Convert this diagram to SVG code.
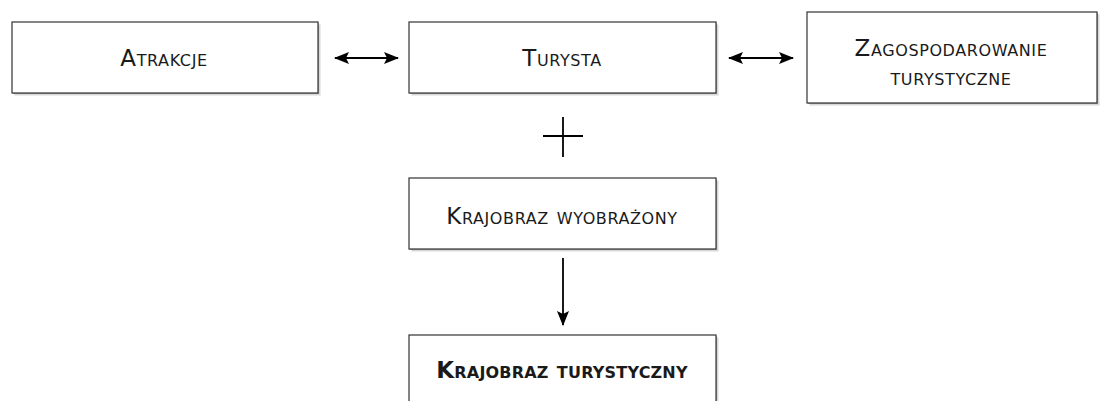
<svg xmlns="http://www.w3.org/2000/svg" width="1102" height="401" viewBox="0 0 1102 401">
<style>
.box{fill:#fff;stroke:#333;stroke-width:1.2}
.sh1{fill:#d8d8d8}
.sh2{fill:#a8a8a8}
.t{font-family:"DejaVu Sans",sans-serif;font-size:23px;letter-spacing:0.6px;font-variant:small-caps;fill:#1a1a1a;text-anchor:middle}
.b{font-weight:bold;letter-spacing:0.2px}
.c{stroke:#000;stroke-width:1.8;fill:none}
</style>
<defs>
<marker id="ah" viewBox="0 0 15 12" refX="14" refY="6" markerWidth="15" markerHeight="12" markerUnits="userSpaceOnUse" orient="auto-start-reverse">
<path d="M0,0 L15,6 L0,12 L3,6 Z" fill="#000"/>
</marker>
</defs>
<rect width="1102" height="401" fill="#fff"/>
<g id="atrakcje">
<rect class="sh1" x="14.5" y="24.5" width="306" height="71"/>
<rect class="sh2" x="13" y="23" width="306" height="71"/>
<rect class="box" x="12" y="22" width="306" height="71"/>
<text class="t" x="164" y="66">Atrakcje</text>
</g>
<g id="turysta">
<rect class="sh1" x="411.5" y="24.5" width="307" height="71"/>
<rect class="sh2" x="410" y="23" width="307" height="71"/>
<rect class="box" x="409" y="22" width="307" height="71"/>
<text class="t" x="562" y="66">Turysta</text>
</g>
<g id="zagospodarowanie">
<rect class="sh1" x="809.5" y="14.5" width="290" height="91"/>
<rect class="sh2" x="808" y="13" width="290" height="91"/>
<rect class="box" x="807" y="12" width="290" height="91"/>
<text class="t" x="951" y="56">Zagospodarowanie</text>
<text class="t" x="951" y="85">turystyczne</text>
</g>
<g id="plus">
<line class="c" x1="543" y1="136" x2="583" y2="136"/>
<line class="c" x1="563" y1="117" x2="563" y2="157"/>
</g>
<g id="krajobraz-wyobrazony">
<rect class="sh1" x="411.5" y="180.5" width="307" height="71"/>
<rect class="sh2" x="410" y="179" width="307" height="71"/>
<rect class="box" x="409" y="178" width="307" height="71"/>
<text class="t" x="562" y="224">Krajobraz wyobrażony</text>
</g>
<g id="krajobraz-turystyczny">
<rect class="sh1" x="411.5" y="337.5" width="307" height="71"/>
<rect class="sh2" x="410" y="336" width="307" height="71"/>
<rect class="box" x="409" y="335" width="307" height="71"/>
<text class="t b" x="562" y="378">Krajobraz turystyczny</text>
</g>
<g id="connectors">
<line class="c" x1="335" y1="58" x2="398" y2="58" marker-start="url(#ah)" marker-end="url(#ah)"/>
<line class="c" x1="729" y1="58" x2="793" y2="58" marker-start="url(#ah)" marker-end="url(#ah)"/>
<line class="c" x1="563" y1="258" x2="563" y2="325" marker-end="url(#ah)"/>
</g>
</svg>
